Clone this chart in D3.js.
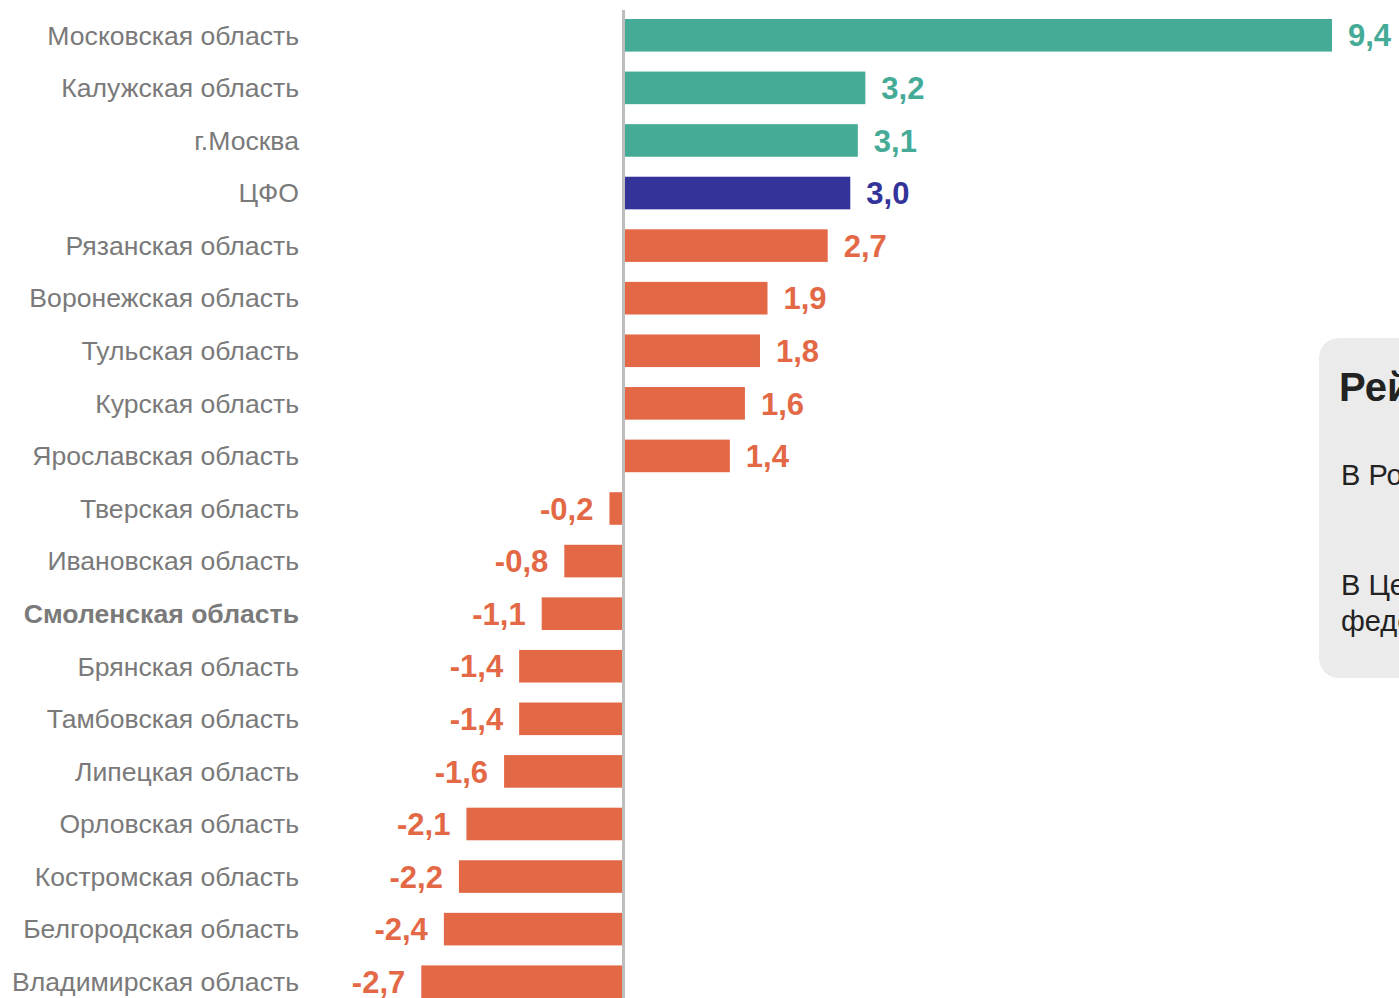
<!DOCTYPE html>
<html><head><meta charset="utf-8">
<script src="https://cdn.jsdelivr.net/npm/d3@7/dist/d3.min.js"></script>
<style>
html,body{margin:0;padding:0;background:#fff;overflow:hidden;}
svg{display:block;font-family:"Liberation Sans",Arial,sans-serif;}
</style></head>
<body>
<script>
const categories = ["Московская область","Калужская область","г.Москва","ЦФО","Рязанская область","Воронежская область","Тульская область","Курская область","Ярославская область","Тверская область","Ивановская область","Смоленская область","Брянская область","Тамбовская область","Липецкая область","Орловская область","Костромская область","Белгородская область","Владимирская область"];
const values = [9.4,3.2,3.1,3.0,2.7,1.9,1.8,1.6,1.4,-0.2,-0.8,-1.1,-1.4,-1.4,-1.6,-2.1,-2.2,-2.4,-2.7];
const groups = ["top","top","top","cfo","rest","rest","rest","rest","rest","rest","rest","rest","rest","rest","rest","rest","rest","rest","rest"];
const boldCategory = "Смоленская область";
const panelTitle = "Рейтинг";
const panelLines = [["В России"],["В Центральном","федеральном округе"]];

const colors = {top:"#45ab97", cfo:"#333399", rest:"#e36846"};
const W = 1399, H = 998;
const svg = d3.select("body").append("svg").attr("width",W).attr("height",H);

const x = d3.scaleLinear().domain([0, 9.4]).range([624.5, 1332]);
const y = d3.scaleBand().domain(categories).range([9, 1008]).paddingInner(0.38).paddingOuter(0.19);

// bars
svg.selectAll("rect.bar").data(categories).enter().append("rect")
  .attr("x",(d,i)=>values[i]>=0 ? x(0) : x(values[i]))
  .attr("y",d=>y(d))
  .attr("width",(d,i)=>Math.abs(x(values[i])-x(0)))
  .attr("height",y.bandwidth())
  .attr("fill",(d,i)=>colors[groups[i]]);

// zero axis line
svg.append("line").attr("x1",x(0)-1).attr("x2",x(0)-1).attr("y1",10).attr("y2",H)
  .attr("stroke","#bdbdbd").attr("stroke-width",3);

// category labels
svg.selectAll("text.cat").data(categories).enter().append("text")
  .attr("x",299).attr("y",d=>y(d)+y.bandwidth()/2).attr("dy","0.35em")
  .attr("text-anchor","end").attr("font-size",26.6)
  .attr("font-weight",d=>d===boldCategory?"bold":"normal")
  .attr("fill","#7a7a7a").text(d=>d);

// value labels
const fmt = v => (v<0?"-":"") + Math.abs(v).toFixed(1).replace(".",",");
svg.selectAll("text.val").data(categories).enter().append("text")
  .attr("x",(d,i)=>values[i]>=0 ? x(values[i])+16 : x(values[i])-16)
  .attr("y",d=>y(d)+y.bandwidth()/2).attr("dy","0.36em")
  .attr("text-anchor",(d,i)=>values[i]>=0?"start":"end")
  .attr("font-size",31).attr("font-weight","bold")
  .attr("fill",(d,i)=>colors[groups[i]]).text((d,i)=>fmt(values[i]));

// side panel
const p = svg.append("g");
p.append("rect").attr("x",1319).attr("y",338).attr("width",200).attr("height",340)
  .attr("rx",20).attr("fill","#ebebeb");
p.append("text").attr("x",1339).attr("y",401).attr("font-size",40).attr("font-weight","bold")
  .attr("fill","#222").text(panelTitle);
const lineY = [[485],[595,631]];
panelLines.forEach((ls,j)=>ls.forEach((t,k)=>{
  p.append("text").attr("x",1341).attr("y",lineY[j][k]).attr("font-size",29)
   .attr("fill","#222").text(t);
}));
</script>
</body></html>
